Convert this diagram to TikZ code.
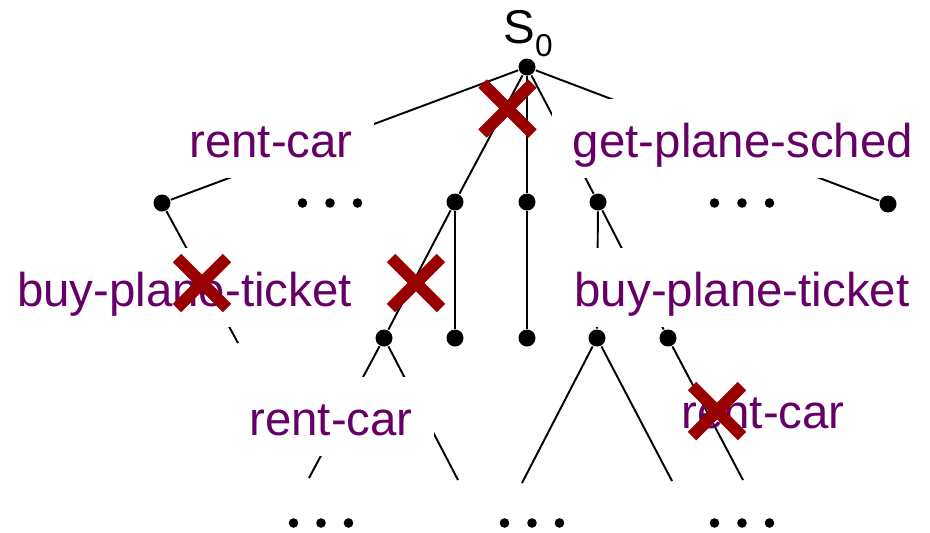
\documentclass[tikz,border=0pt]{standalone}
\usepackage{fontspec}
\setmainfont{Liberation Sans}
\usepackage{tikz}
\usetikzlibrary{calc}
\definecolor{plum}{RGB}{102,0,102}
\definecolor{prunered}{RGB}{153,0,0}
\tikzset{tdot/.style={circle,fill=black,inner sep=0pt,minimum size=0.34cm},
  act/.style={font=\fontsize{27}{32}\selectfont,text=plum,inner sep=0pt,inner xsep=0.42cm,text height=1.16cm,text depth=0.42cm,anchor=base},
  actbox/.style={act,fill=white},
  pruneline/.style={draw=prunered,line width=0.24cm}}
\newcommand{\tnode}[3]{\node[tdot] (#1) at (#2,#3) {};}
\newcommand{\tend}[3]{\coordinate (#1) at (#2,#3);}
\newcommand{\moredots}[2]{\fill ($(#1,#2)+(-27.5,0)$) circle (0.096cm); \fill (#1,#2) circle (0.096cm); \fill ($(#1,#2)+(27.5,0)$) circle (0.096cm);}
\newcommand{\prune}[2]{\draw[pruneline] ($(#1,#2)+(-25,-25)$) -- ($(#1,#2)+(25,25)$); \draw[pruneline] ($(#1,#2)+(-25,25)$) -- ($(#1,#2)+(25,-25)$);}

\begin{document}
\begin{tikzpicture}[x=0.02cm,y=-0.02cm,line width=1.1pt]
    \useasboundingbox (0,0) rectangle (930,532);

    \tnode{root}{527}{67}
    \node[font=\fontsize{27}{32}\selectfont,inner sep=0pt,anchor=base] (s0) at (528,43) {S\raisebox{-7.4pt}{\fontsize{18}{18}\selectfont 0}};

    \tnode{a1}{162}{203}
    \tnode{a2}{455}{202}
    \tnode{a3}{527}{202}
    \tnode{a4}{598}{202}
    \tnode{a5}{888}{204}

    \tnode{b1}{384}{338}
    \tnode{b2}{455}{338}
    \tnode{b3}{527}{338}
    \tnode{b4}{597}{338}
    \tnode{b5}{668}{338}

    \tend{c1}{238}{343}
    \tend{c2}{309}{478}
    \tend{c3}{458}{480}
    \tend{c4}{522}{483}
    \tend{c5}{672}{481}
    \tend{c6}{743}{480}

    \draw (root) -- (a1);
    \draw (root) -- (a2);
    \draw (root) -- (a3);
    \draw (root) -- (a4);
    \draw (root) -- (a5);
    \draw (a1) -- (c1);
    \draw (a2) -- (b1);
    \draw (a2) -- (b2);
    \draw (a3) -- (b3);
    \draw (a4) -- (b4);
    \draw (a4) -- (b5);
    \draw (b1) -- (c2);
    \draw (b1) -- (c3);
    \draw (b4) -- (c4);
    \draw (b4) -- (c5);
    \draw (b5) -- (c6);

    \node[actbox] (rc1) at (271,157) {rent-car};
    \node[actbox] (gps) at (743,157) {get-plane-sched};
    \node[actbox] (bpt1) at (184.5,306) {buy-plane-ticket};
    \node[actbox] (bpt2) at (742,306) {buy-plane-ticket};
    \node[actbox] (rc2) at (331,435) {rent-car};
    \node[act] (rc3) at (763,428) {rent-car};

    \moredots{330}{203}
    \moredots{742}{203}
    \moredots{321}{523}
    \moredots{532}{523}
    \moredots{742}{523}

    \prune{507.5}{108.5}
    \prune{202}{283}
    \prune{416}{283}
    \prune{717}{411}

\end{tikzpicture}
\end{document}
